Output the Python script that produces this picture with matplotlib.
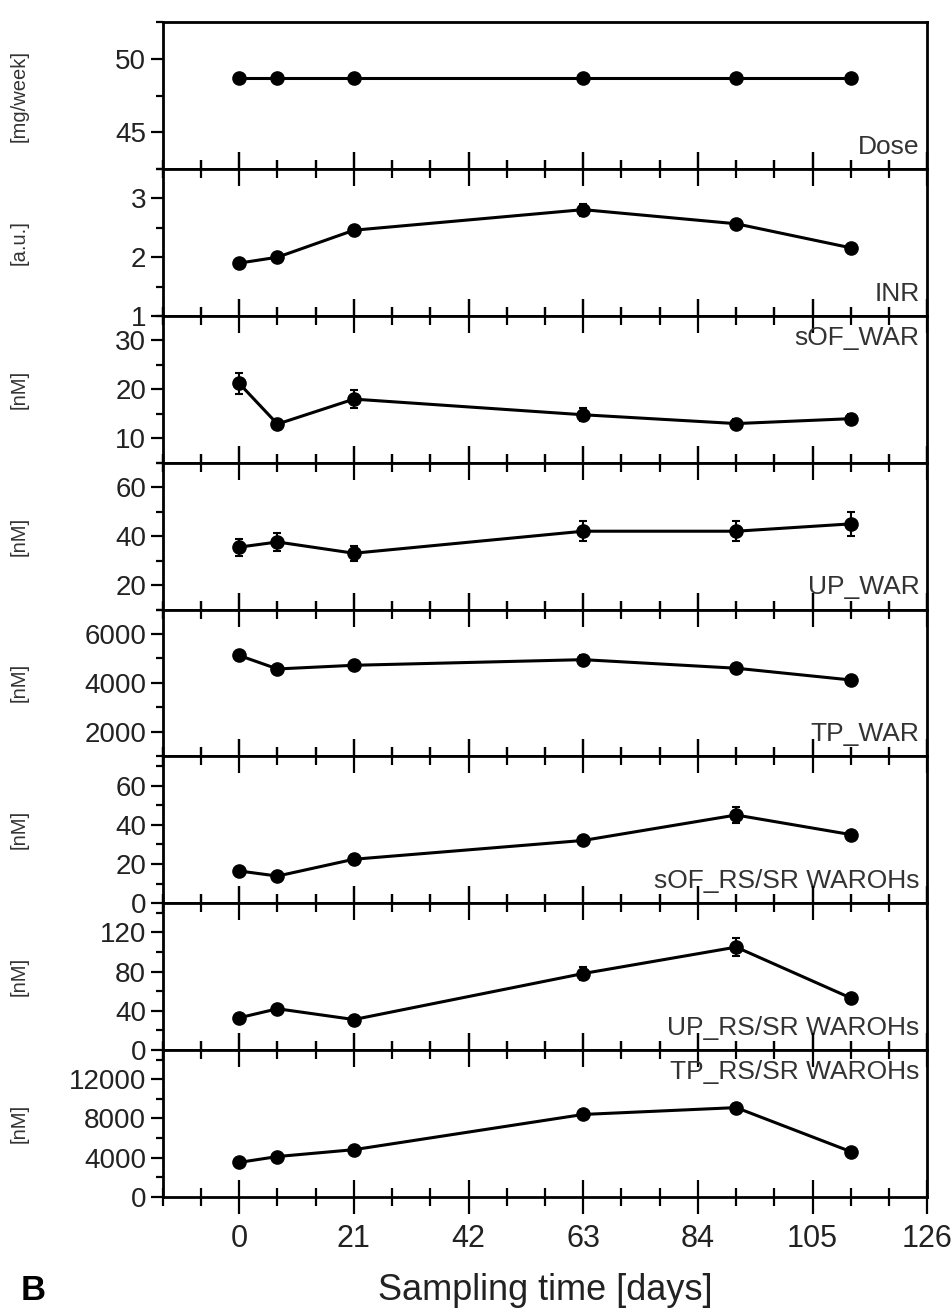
import numpy as np
import matplotlib
matplotlib.use("Agg")
import matplotlib.pyplot as plt
from matplotlib.ticker import MultipleLocator

plt.rcParams['font.family'] = ['Liberation Sans', 'DejaVu Sans']

days = [0, 7, 21, 63, 91, 112]

dose = [48.7, 48.7, 48.7, 48.7, 48.7, 48.7]
dose_err = [0, 0, 0, 0, 0, 0]
inr = [1.9, 2.0, 2.46, 2.81, 2.57, 2.16]
inr_err = [0.05, 0.05, 0.08, 0.1, 0.07, 0.07]
sof_war = [21.2, 12.9, 18.0, 14.8, 13.0, 14.0]
sof_war_err = [2.2, 1.0, 1.8, 1.3, 1.0, 1.0]
up_war = [35.5, 37.6, 33.0, 42.0, 42.0, 45.0]
up_war_err = [3.5, 3.5, 3.0, 4.0, 4.0, 5.0]
tp_war = [5120, 4570, 4720, 4950, 4600, 4120]
tp_war_err = [200, 150, 150, 200, 150, 120]
sof_rs = [16.4, 13.8, 22.4, 32.0, 45.0, 35.0]
sof_rs_err = [1.5, 1.5, 2.0, 2.0, 4.0, 2.0]
up_rs = [32.8, 42.0, 31.0, 78.0, 105.0, 53.0]
up_rs_err = [3, 3, 3, 7, 9, 4]
tp_rs = [3500, 4100, 4800, 8400, 9100, 4600]
tp_rs_err = [300, 250, 250, 350, 350, 250]

names = ["Dose", "INR", "sOF_WAR", "UP_WAR", "TP_WAR",
         "sOF_RS/SR WAROHs", "UP_RS/SR WAROHs", "TP_RS/SR WAROHs"]
units = ["[mg/week]", "[a.u.]", "[nM]", "[nM]", "[nM]", "[nM]", "[nM]", "[nM]"]
series = [dose, inr, sof_war, up_war, tp_war, sof_rs, up_rs, tp_rs]
errors = [dose_err, inr_err, sof_war_err, up_war_err, tp_war_err,
          sof_rs_err, up_rs_err, tp_rs_err]
ylims = [(42.5, 52.5), (1, 3.5), (5, 35), (10, 70), (1000, 7000),
         (0, 75), (0, 150), (0, 15000)]
yticks = [[45, 50], [1, 2, 3], [10, 20, 30], [20, 40, 60],
          [2000, 4000, 6000], [0, 20, 40, 60], [0, 40, 80, 120],
          [0, 4000, 8000, 12000]]
yminor = [2.5, 0.5, 5, 10, 1000, 10, 20, 2000]
label_top = [False, False, True, False, False, False, False, True]

fig, axes = plt.subplots(8, 1, sharex=True, figsize=(9.52, 13.15), dpi=100)
fig.subplots_adjust(left=0.171, right=0.974, top=0.983, bottom=0.09, hspace=0)

for i, ax in enumerate(axes):
    ax.errorbar(days, series[i], yerr=errors[i], color='black', marker='o',
                markersize=9.5, linewidth=2.2, elinewidth=1.5, capsize=3, capthick=1.5)
    ax.set_ylim(*ylims[i])
    ax.set_yticks(yticks[i])
    ax.yaxis.set_minor_locator(MultipleLocator(yminor[i]))
    ax.set_xlim(-14, 126)
    ax.xaxis.set_major_locator(MultipleLocator(21))
    ax.xaxis.set_minor_locator(MultipleLocator(7))
    for s in ax.spines.values():
        s.set_linewidth(2)
    ax.tick_params(axis='x', which='major', direction='inout', length=24, width=1.6,
                   top=(i > 0), bottom=True, labelsize=22)
    ax.tick_params(axis='x', which='minor', direction='inout', length=13, width=1.6,
                   top=(i > 0), bottom=True)
    ax.tick_params(axis='y', which='major', direction='out', length=9, width=1.6,
                   labelsize=20, pad=3, labelcolor='#222222')
    ax.tick_params(axis='y', which='minor', direction='out', length=5, width=1.6)
    ax.set_ylabel(units[i], fontsize=14.5, color='#333333')
    ax.yaxis.set_label_coords(-0.176, 0.5)
    if label_top[i]:
        ax.text(0.99, 0.93, names[i], transform=ax.transAxes, ha='right', va='top',
                fontsize=19, color='#333333')
    else:
        ax.text(0.99, 0.07, names[i], transform=ax.transAxes, ha='right', va='bottom',
                fontsize=19, color='#333333')

axes[-1].set_xticks([0, 21, 42, 63, 84, 105, 126])
axes[-1].tick_params(axis='x', labelsize=22, pad=8, labelcolor='#222222')

fig.text(0.573, 0.019, "Sampling time [days]", ha='center', va='center', fontsize=26,
         color='#222222')
fig.text(0.022, 0.019, "B", ha='left', va='center', fontsize=25, fontweight='bold')

plt.savefig("out.png")
